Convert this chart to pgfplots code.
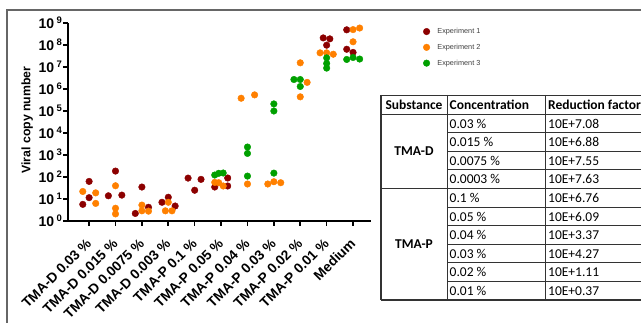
\documentclass[border=0pt]{standalone}
\usepackage{fontspec}
\setmainfont{Liberation Sans}
\newfontfamily\calfont{Carlito}
\usepackage{pgfplots}
\pgfplotsset{compat=1.18}
\definecolor{expone}{RGB}{140,0,0}
\definecolor{exptwo}{RGB}{255,128,0}
\definecolor{expthree}{RGB}{0,160,0}
\newcommand\ylab[1]{\textbf{10}\,\raisebox{4.5pt}{\fontsize{9.5}{9.5}\selectfont\textbf{#1}}}
\begin{document}
\begin{tikzpicture}[x=1pt,y=1pt]
\useasboundingbox (0,0) rectangle (641,323);
\clip (0,0) rectangle (641,323);
\draw[line width=1.5pt, black!60] (7,-5) -- (7,313) -- (650,313);
\begin{axis}[
  at={(68pt,102pt)}, anchor=south west,
  scale only axis, width=303pt, height=198pt,
  xmin=-0.8, xmax=10.68,
  ymode=log, ymin=1, ymax=1e9,
  axis x line*=bottom, axis y line*=left,
  axis line style={line width=1.6pt},
  tick align=outside, major tick length=5pt,
  tick style={line width=1.6pt, black},
  yminorticks=false,
  xtick={0,...,10},
  xticklabels={TMA-D 0.03 \%, TMA-D 0.015 \%, TMA-D 0.0075 \%, TMA-D 0.003 \%, TMA-P 0.1 \%, TMA-P 0.05 \%, TMA-P 0.04 \%, TMA-P 0.03 \%, TMA-P 0.02 \%, TMA-P 0.01 \%, Medium},
  xticklabel style={xshift=2.2pt, yshift=-12.6pt, rotate=45, anchor=east, font=\bfseries\fontsize{13.8}{14}\selectfont},
  ytick={1,10,100,1000,10000,100000,1000000,10000000,100000000,1000000000},
  yticklabels={\ylab{0},\ylab{1},\ylab{2},\ylab{3},\ylab{4},\ylab{5},\ylab{6},\ylab{7},\ylab{8},\ylab{9}},
  yticklabel style={font=\fontsize{14}{14}\selectfont, inner sep=1pt},
  ylabel={Viral copy number},
  every axis y label/.style={at={(axis description cs:-0.135,0.51)}, rotate=90, anchor=center, font=\bfseries\fontsize{12.3}{14}\selectfont},
  clip=false,
  legend image code/.code={\draw[#1] plot coordinates {(3.3pt,0pt)};},
  legend style={at={(axis description cs:1.162,0.985)}, anchor=north west, draw=none, fill=none,
    font=\fontsize{7.3}{8}\selectfont\color{black!75}, row sep=9pt, nodes={inner sep=0pt},
    /tikz/every odd column/.append style={column sep=7.5pt}},
  legend cell align=left,
]
\addplot[only marks, mark=*, mark size=3.3pt, color=expone] coordinates {
 (-0.24,5.7) (0,63) (0,11.5)
 (0.73,14) (1,186) (1.24,15)
 (1.75,2.2) (2,35) (2.25,4.2)
 (2.76,7.1) (3,12) (3.26,4.8)
 (3.75,89) (4,25) (4.24,78)
 (4.76,35) (5.25,90) (5.25,39)
 (8.87,2.1e8) (9.12,1.9e8) (9,9.8e7)
 (9.76,4.9e8) (9.76,6.4e7) (10,4.6e7)
};
\addplot[only marks, mark=*, mark size=3.3pt, color=exptwo] coordinates {
 (-0.24,22) (0.25,19) (0.25,6.3)
 (1,40) (1,3.8) (1,2.1)
 (2,5.3) (2,2.9) (2.25,2.8)
 (3,7.1) (2.89,2.9) (3.14,2.9)
 (4.76,57) (4.91,55) (5.08,39)
 (5.76,3.8e5) (6.27,5.4e5) (6,48)
 (6.77,48) (7,61) (7.26,55)
 (8,1.55e7) (8.26,2.0e6) (8,4.4e5)
 (8.75,4.4e7) (9,4.4e7) (9.25,3.8e7)
 (10,5.0e8) (10.25,5.9e8) (10,1.4e8)
};
\addplot[only marks, mark=*, mark size=3.3pt, color=expthree] coordinates {
 (4.76,123) (4.91,147) (5.08,152)
 (6,2300) (6,1180) (6,110)
 (7,2.1e5) (7,1.0e5) (7,150)
 (7.76,2.7e6) (8,2.7e6) (8,1.3e6)
 (9,2.6e7) (9,1.45e7) (9,8.9e6)
 (9.76,2.2e7) (10,2.7e7) (10.25,2.3e7)
};
\legend{Experiment 1, Experiment 2, Experiment 3}
\end{axis}
% table
\begin{scope}[line width=0.9pt, black!80]
\draw (381,228) -- (650,228);
\draw (381,209) -- (650,209);
\foreach \k in {1,2,3,5,6,7,8,9}{
  \draw (447,{209-18.6*\k}) -- (650,{209-18.6*\k});
}
\draw (381,{209-18.6*4}) -- (650,{209-18.6*4});
\draw[line width=1.4pt] (381,23) -- (650,23);
\draw[line width=1.3pt] (381,228) -- (381,23);
\draw (447,228) -- (447,23);
\draw (545,228) -- (545,23);
\end{scope}
\begin{scope}[every node/.style={inner sep=0pt, font=\calfont\fontsize{13.5}{15}\selectfont}]
\node[anchor=base] at (414,213.5) {\bfseries Substance};
\node[anchor=base west] at (449.5,213.5) {\bfseries Concentration};
\node[anchor=base west] at (548,213.5) {\bfseries Reduction factor};
\node[anchor=base] at (414,{323-151.2-4.8}) {\bfseries TMA-D};
\node[anchor=base] at (414,{323-244.2-4.8}) {\bfseries TMA-P};
\foreach \c/\r [count=\i from 0] in {0.03 \%/10E+7.08, 0.015 \%/10E+6.88, 0.0075 \%/10E+7.55, 0.0003 \%/10E+7.63, 0.1 \%/10E+6.76, 0.05 \%/10E+6.09, 0.04 \%/10E+3.37, 0.03 \%/10E+4.27, 0.02 \%/10E+1.11, 0.01 \%/10E+0.37}{
  \node[anchor=base west] at (449.5,{209-18.6*\i-9.3-4.8}) {\c};
  \node[anchor=base west] at (548,{209-18.6*\i-9.3-4.8}) {\r};
}
\end{scope}
\end{tikzpicture}
\end{document}
